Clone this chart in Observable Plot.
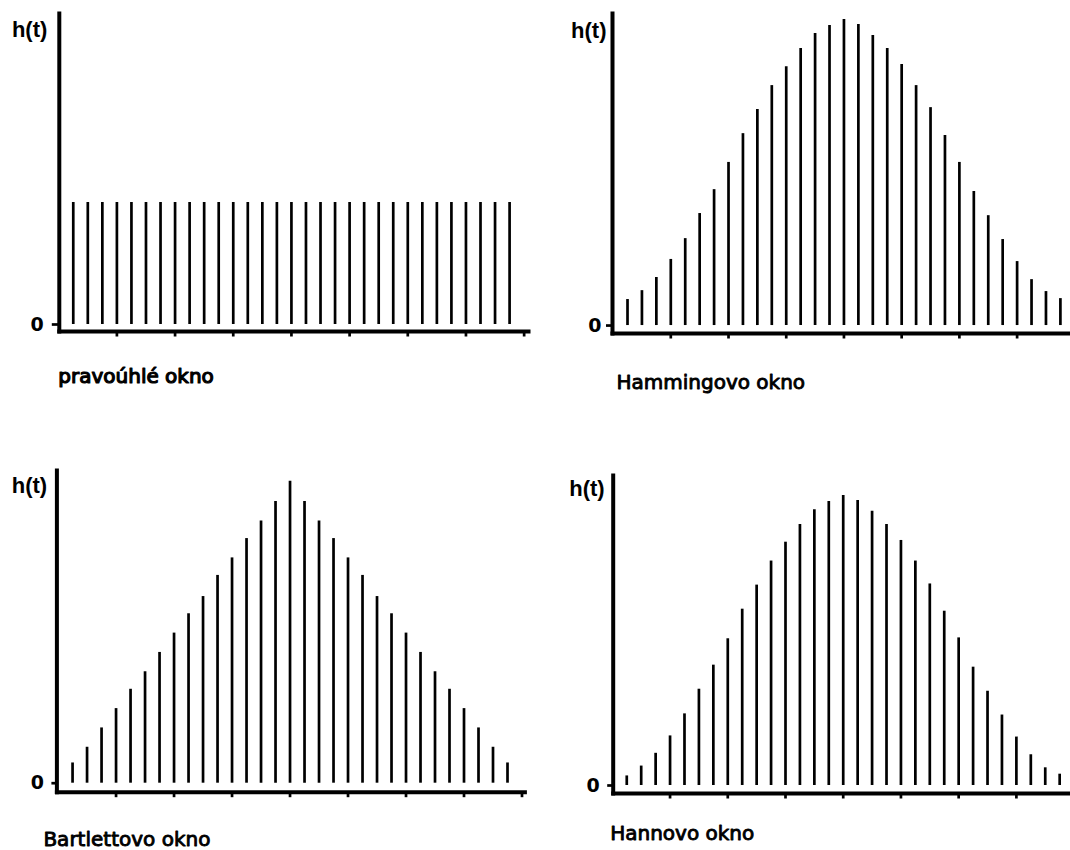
<!DOCTYPE html>
<html>
<head>
<meta charset="utf-8">
<script src="https://cdn.jsdelivr.net/npm/d3@7"></script>
<script src="https://cdn.jsdelivr.net/npm/@observablehq/plot@0.6"></script>
<style>
  html, body { margin: 0; padding: 0; background: #fff; }
  #wrap { position: relative; width: 1070px; height: 850px; overflow: hidden; background: #fff; }
  #wrap > div { position: absolute; }
  svg { display: block; overflow: visible; }
</style>
</head>
<body>
<div id="wrap">
  <div id="p1" style="left:0px;top:0px"></div>
  <div id="p2" style="left:535px;top:0px"></div>
  <div id="p3" style="left:0px;top:420px"></div>
  <div id="p4" style="left:535px;top:420px"></div>
</div>
<script>
// sample index t
const samples = [0,1,2,3,4,5,6,7,8,9,10,11,12,13,14,15,16,17,18,19,20,21,22,23,24,25,26,27,28,29,30];
// x-axis tick positions (sample index)
const xTicks = [3,7,11,15,19,23,27,31];
const yTicks = [0];
const yTickLabels = ["0"];
const yLabel = "h(t)";

// window values
const rectangular = [1,1,1,1,1,1,1,1,1,1,1,1,1,1,1,1,1,1,1,1,1,1,1,1,1,1,1,1,1,1,1];
const hamming = [0.085,0.114,0.157,0.216,0.284,0.366,0.444,0.533,0.627,0.706,0.784,0.846,0.905,0.954,0.980,1.000,
                 0.984,0.948,0.905,0.853,0.784,0.712,0.621,0.533,0.438,0.359,0.281,0.209,0.150,0.111,0.088];
const bartlett = [0.067,0.119,0.183,0.247,0.311,0.369,0.433,0.497,0.561,0.618,0.688,0.746,0.810,0.868,0.933,1.000,
                  0.933,0.868,0.810,0.746,0.688,0.618,0.561,0.497,0.433,0.369,0.311,0.247,0.183,0.119,0.067];
const hann = [0.033,0.067,0.111,0.171,0.247,0.332,0.415,0.506,0.608,0.691,0.774,0.839,0.900,0.951,0.979,1.000,
              0.983,0.946,0.900,0.845,0.774,0.695,0.601,0.509,0.408,0.325,0.243,0.167,0.106,0.061,0.039];

const captions = ["pravoúhlé okno", "Hammingovo okno", "Bartlettovo okno", "Hannovo okno"];

function panel(values, caption, c) {
  const data = samples.map((n, i) => ({n, h: values[i]}));
  return Plot.plot({
    width: c.width, height: c.height,
    marginLeft: c.ml, marginRight: c.mr, marginTop: c.mt, marginBottom: c.mb,
    x: {domain: c.xd, axis: null},
    y: {domain: c.yd, axis: null},
    style: {fontFamily: "'DejaVu Sans', sans-serif", fontSize: "19px", fontWeight: "bold", color: "black", background: "white"},
    marks: [
      Plot.ruleX(data, {x: "n", y: "h", stroke: "black", strokeWidth: 2.7}),
      Plot.frame({anchor: "left", stroke: "black", strokeWidth: 4, strokeLinecap: "square"}),
      Plot.frame({anchor: "bottom", stroke: "black", strokeWidth: 4, strokeLinecap: "square"}),
      Plot.axisX({ticks: xTicks, tickSize: 5.5, tickFormat: () => "", label: null, stroke: "black", strokeWidth: 2.7}),
      Plot.axisY({ticks: yTicks, tickSize: c.ts, tickPadding: c.tp, label: null, stroke: "black", strokeWidth: 2.7,
                  tickFormat: (d, i) => yTickLabels[i], fill: "black"}),
      Plot.text([yLabel], {text: d => d, frameAnchor: "top-left", textAnchor: "end", lineAnchor: "bottom",
                 dx: -c.hgap, dy: c.hdy, fontFamily: "'Liberation Sans', Arial, sans-serif", fontSize: 22, fontWeight: "bold", fill: "black"}),
      Plot.text([caption], {text: d => d, frameAnchor: "bottom-left", textAnchor: "start", lineAnchor: "bottom",
                 dx: c.cdx, dy: c.cdy, fontFamily: "'DejaVu Sans', sans-serif", fontSize: 20, fontWeight: "normal",
                 fill: "black", stroke: "black", strokeWidth: c.cw})
    ]
  });
}

document.getElementById("p1").append(panel(rectangular, captions[0], {
  width: 535, height: 420, ml: 58.8, mr: 7, mt: 13, mb: 89,
  xd: [-0.96, 31.3], yd: [-0.0574, 2.549], ts: 7, tp: 8.5, hgap: 12, hdy: 23, cdx: -1, cdy: 51, cw: 1.2
}));
document.getElementById("p2").append(panel(hamming, captions[1], {
  width: 535, height: 420, ml: 77, mr: 0, mt: 13, mb: 87,
  xd: [-1.04, 30.7], yd: [-0.026, 1.0196], ts: 6, tp: 5, hgap: 6, hdy: 24, cdx: 4, cdy: 55, cw: 0.9
}));
document.getElementById("p3").append(panel(bartlett, captions[2], {
  width: 535, height: 430, ml: 56.4, mr: 10.6, mt: 50, mb: 58.3,
  xd: [-1.08, 31.2], yd: [-0.0298, 1.0354], ts: 5, tp: 8, hgap: 9.7, hdy: 22, cdx: -13.5, cdy: 53.3, cw: 0.9
}));
document.getElementById("p4").append(panel(hann, captions[3], {
  width: 535, height: 430, ml: 77.7, mr: 0, mt: 55, mb: 57,
  xd: [-0.94, 30.75], yd: [-0.0276, 1.069], ts: 5.5, tp: 8, hgap: 8.5, hdy: 20, cdx: -3, cdy: 46.3, cw: 0.9
}));
</script>
</body>
</html>
